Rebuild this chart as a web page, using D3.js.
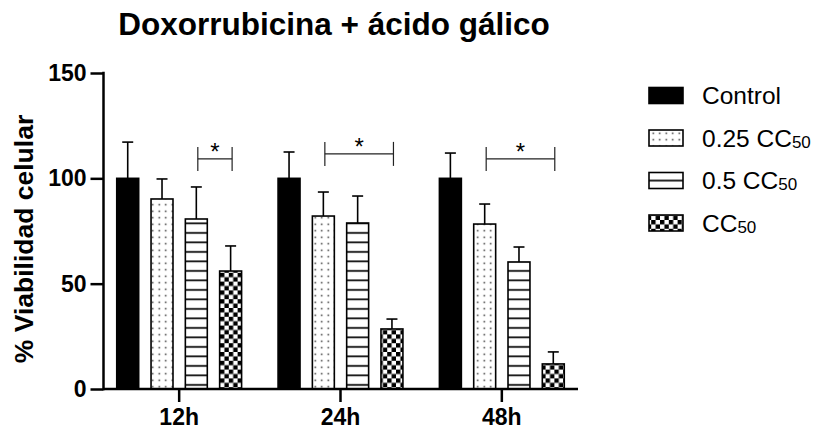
<!DOCTYPE html>
<html>
<head>
<meta charset="utf-8">
<script src="https://cdn.jsdelivr.net/npm/d3@7"></script>
<style>
  html, body { margin: 0; padding: 0; background: #fff; }
  svg { display: block; font-family: "Liberation Sans", Arial, sans-serif; }
</style>
</head>
<body>
<svg id="chart" width="817" height="434"></svg>
<script>
// ---- data ----
const groups = ["12h", "24h", "48h"];
const seriesNames = ["Control", "0.25 CC50", "0.5 CC50", "CC50"];
const legendMain = ["Control", "0.25 CC", "0.5 CC", "CC"];
const legendSub = ["", "50", "50", "50"];
const means = [
  [100, 90.2, 80.7, 56.0],   // 12h
  [100, 82.1, 78.8, 28.5],   // 24h
  [100, 78.3, 60.3, 11.9]    // 48h
];
const errors = [
  [17.2, 9.5, 15.2, 11.9],
  [12.5, 11.4, 12.8, 4.7],
  [12.0, 9.5, 7.1, 5.7]
];
const yTicks = [0, 50, 100, 150];
// significance brackets: group, from series, to series, level (data units), label
const sigGroup = ["12h", "24h", "48h"];
const sigFrom = ["0.5 CC50", "0.25 CC50", "0.25 CC50"];
const sigTo = ["CC50", "CC50", "CC50"];
const sigLevel = [109.2, 111.6, 109.2];
const sigLabel = ["*", "*", "*"];

// ---- layout ----
const svg = d3.select("#chart");
const axisX0 = 103.5, axisX1 = 578, axisY = 389;
const y = d3.scaleLinear().domain([0, 150]).range([389, 73]);
const x0 = d3.scaleBand().domain(groups).range([98.5, 582.5]).paddingInner(0).paddingOuter(0);
const x1 = d3.scaleBand().domain(seriesNames).range([-68.6, 68.6]).paddingInner(0.36).paddingOuter(0.18);

// ---- patterns ----
const defs = svg.append("defs");
const pDots = defs.append("pattern").attr("id", "pat1").attr("patternUnits", "userSpaceOnUse")
  .attr("width", 6.5).attr("height", 6.5);
pDots.append("rect").attr("width", 6.5).attr("height", 6.5).attr("fill", "#fff");
pDots.append("rect").attr("x", 2.5).attr("y", 2.5).attr("width", 1.5).attr("height", 1.5).attr("fill", "#333");

const pLines = defs.append("pattern").attr("id", "pat2").attr("patternUnits", "userSpaceOnUse")
  .attr("width", 10).attr("height", 9.5);
pLines.append("rect").attr("width", 10).attr("height", 9.5).attr("fill", "#fff");
pLines.append("rect").attr("x", 0).attr("y", 4).attr("width", 10).attr("height", 1.8).attr("fill", "#111");

const c = 4.4;
const pChk = defs.append("pattern").attr("id", "pat3").attr("patternUnits", "userSpaceOnUse")
  .attr("width", 2 * c).attr("height", 2 * c);
pChk.append("rect").attr("width", 2 * c).attr("height", 2 * c).attr("fill", "#fff");
pChk.append("rect").attr("x", 0).attr("y", 0).attr("width", c).attr("height", c).attr("fill", "#000");
pChk.append("rect").attr("x", c).attr("y", c).attr("width", c).attr("height", c).attr("fill", "#000");

const fills = ["#000", "url(#pat1)", "url(#pat2)", "url(#pat3)"];
const color = d3.scaleOrdinal().domain(seriesNames).range(fills);

// ---- title ----
svg.append("text")
  .attr("x", 334).attr("y", 35)
  .attr("text-anchor", "middle")
  .attr("font-size", 31.5).attr("font-weight", "bold")
  .attr("fill", "#000")
  .text("Doxorrubicina + ácido gálico");

// ---- y axis label ----
svg.append("text")
  .attr("transform", "translate(33,239) rotate(-90)")
  .attr("text-anchor", "middle")
  .attr("font-size", 26.5).attr("font-weight", "bold")
  .text("% Viabilidad celular");

// ---- bars ----
const rows = [];
groups.forEach((g, gi) => seriesNames.forEach((s, si) => {
  rows.push({ g, s, v: means[gi][si], e: errors[gi][si] });
}));
const cxOf = d => x0(d.g) + x0.bandwidth() / 2 + x1(d.s) + x1.bandwidth() / 2;

const gBars = svg.append("g");
const eb = gBars.selectAll("g.err").data(rows).enter().append("g").attr("class", "err");
eb.append("line")
  .attr("x1", cxOf).attr("x2", cxOf)
  .attr("y1", d => y(d.v)).attr("y2", d => y(d.v + d.e))
  .attr("stroke", "#000").attr("stroke-width", 1.6);
eb.append("line")
  .attr("x1", d => cxOf(d) - 5.5).attr("x2", d => cxOf(d) + 5.5)
  .attr("y1", d => y(d.v + d.e)).attr("y2", d => y(d.v + d.e))
  .attr("stroke", "#000").attr("stroke-width", 1.6);

gBars.selectAll("rect.bar").data(rows).enter().append("rect")
  .attr("class", "bar")
  .attr("x", d => x0(d.g) + x0.bandwidth() / 2 + x1(d.s))
  .attr("width", x1.bandwidth())
  .attr("y", d => y(d.v))
  .attr("height", d => y(0) - y(d.v))
  .attr("fill", d => color(d.s))
  .attr("stroke", "#000").attr("stroke-width", 1.6);

// ---- significance brackets ----
const gSig = svg.append("g");
sigGroup.forEach((g, i) => {
  const cx = x0(g) + x0.bandwidth() / 2;
  const xa = cx + x1(sigFrom[i]) + x1.bandwidth() / 2 + 1.5;
  const xb = cx + x1(sigTo[i]) + x1.bandwidth() / 2 + 1.5;
  const yy = y(sigLevel[i]);
  gSig.append("line").attr("x1", xa).attr("x2", xb).attr("y1", yy).attr("y2", yy)
    .attr("stroke", "#222").attr("stroke-width", 1.2);
  [xa, xb].forEach(xx => gSig.append("line").attr("x1", xx).attr("x2", xx)
    .attr("y1", yy - 12).attr("y2", yy + 12).attr("stroke", "#222").attr("stroke-width", 1.2));
  gSig.append("text").attr("x", (xa + xb) / 2).attr("y", yy + 1)
    .attr("text-anchor", "middle").attr("font-size", 24).attr("fill", "#000")
    .text(sigLabel[i]);
});

// ---- axes ----
const yAxis = d3.axisLeft(y).tickValues(yTicks).tickSize(13).tickPadding(4).tickSizeOuter(0);
const gy = svg.append("g").attr("transform", `translate(${axisX0},0)`).call(yAxis);
gy.select(".domain").remove();
gy.selectAll(".tick line").attr("stroke", "#000").attr("stroke-width", 2.5);
gy.selectAll(".tick text").attr("font-size", 23).attr("font-weight", "bold")
  .attr("font-family", "Liberation Sans, Arial, sans-serif").attr("fill", "#000");
svg.append("line").attr("x1", axisX0).attr("x2", axisX0).attr("y1", y(150) - 1.25).attr("y2", axisY + 1.25)
  .attr("stroke", "#000").attr("stroke-width", 2.5);

const xAxis = d3.axisBottom(x0).tickSize(13).tickPadding(7).tickSizeOuter(0);
const gx = svg.append("g").attr("transform", `translate(0,${axisY})`).call(xAxis);
gx.select(".domain").remove();
gx.selectAll(".tick line").attr("stroke", "#000").attr("stroke-width", 2.5);
gx.selectAll(".tick text").attr("font-size", 23).attr("font-weight", "bold")
  .attr("font-family", "Liberation Sans, Arial, sans-serif").attr("fill", "#000");
svg.append("line").attr("x1", axisX0).attr("x2", axisX1).attr("y1", axisY).attr("y2", axisY)
  .attr("stroke", "#000").attr("stroke-width", 2.5);

// ---- legend ----
const leg = svg.append("g");
const legY = d3.scalePoint().domain(seriesNames).range([95.5, 223]);
const pLeg = defs.append("pattern").attr("id", "patLeg").attr("patternUnits", "userSpaceOnUse")
  .attr("width", 40).attr("height", 16).attr("y", legY("0.5 CC50") - 8);
pLeg.append("rect").attr("width", 40).attr("height", 16).attr("fill", "#fff");
pLeg.append("rect").attr("x", 0).attr("y", 7.2).attr("width", 40).attr("height", 1.8).attr("fill", "#111");
const legFills = ["#000", "url(#pat1)", "url(#patLeg)", "url(#pat3)"];
seriesNames.forEach((s, i) => {
  const cy = legY(s);
  leg.append("rect").attr("x", 649).attr("y", cy - 8).attr("width", 34).attr("height", 16)
    .attr("fill", legFills[i]).attr("stroke", "#000").attr("stroke-width", 1.6);
  const t = leg.append("text").attr("x", 702).attr("y", cy + 8.8)
    .attr("font-size", 24.5).attr("fill", "#000");
  t.append("tspan").text(legendMain[i]);
  if (legendSub[i]) t.append("tspan").attr("font-size", 17).attr("dy", 1).text(legendSub[i]);
});
</script>
</body>
</html>
